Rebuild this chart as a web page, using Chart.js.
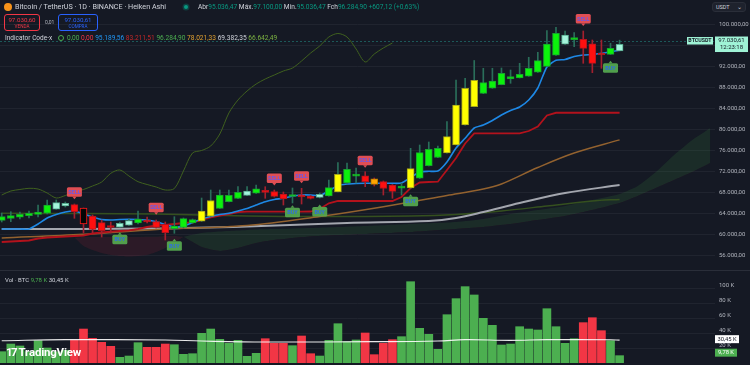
<!DOCTYPE html>
<html>
<head>
<meta charset="utf-8">
<script src="https://cdn.jsdelivr.net/npm/chart.js@4.4.1/dist/chart.umd.min.js"></script>
<style>
  html, body { margin: 0; padding: 0; background: #151924; }
  #wrap { position: relative; width: 750px; height: 365px; overflow: hidden; font-family: Roboto, 'Noto Sans', sans-serif; color: #d1d4dc; }
  canvas { position: absolute; left: 0; }
  #price { top: 0; }
  #vol { top: 270px; }
  .t { position: absolute; white-space: nowrap; line-height: 1; }
  .g { color: #089981; }
  .sep { position: absolute; left: 0; top: 270px; width: 750px; height: 1px; background: #2a2e39; }
  .box { position: absolute; border-radius: 3px; text-align: center; line-height: 1; }
  .pick { position: absolute; left: 712px; top: 2px; width: 34px; height: 10px; border: 1px solid #2a2e39; background: #1e222d;
          border-radius: 3px; display: flex; justify-content: space-between; align-items: center; padding: 0 3px; box-sizing: border-box;
          font-size: 5.5px; color: #d1d4dc; }
</style>
</head>
<body>
<div id="wrap">
  <canvas id="price" width="750" height="270"></canvas>
  <canvas id="vol" width="750" height="95"></canvas>
  <div class="sep"></div>

  <div class="t" style="left:4px;top:3px;width:8px;height:8px;border-radius:50%;background:#f7931a"></div>
  <div class="t" style="left:15px;top:3px;font-size:7.2px">Bitcoin / TetherUS · 1D · BINANCE · Heiken Ashi</div>
  <div class="t" style="left:184px;top:5px;width:4px;height:4px;border-radius:50%;background:#089981;box-shadow:0 0 0 1.5px rgba(8,153,129,0.3)"></div>
  <div class="t" style="left:198px;top:4px;font-size:6.6px">Abr<span class="g">95.036,47</span> Máx.<span class="g">97.100,00</span> Mín.<span class="g">95.036,47</span> Fch<span class="g">96.284,90</span> <span class="g">+607,12 (+0,63%)</span></div>

  <div class="box" style="left:4px;top:14px;width:34px;height:15px;border:1px solid #f23645;color:#f23645">
    <div style="font-size:6.2px;margin-top:2px">97.030,60</div><div style="font-size:4.6px;margin-top:1.5px">VENDA</div>
  </div>
  <div class="t" style="left:45px;top:20px;font-size:5px;color:#b2b5be">0,01</div>
  <div class="box" style="left:58px;top:14px;width:38px;height:15px;border:1px solid #2962ff;color:#2962ff">
    <div style="font-size:6.2px;margin-top:2px">97.030,61</div><div style="font-size:4.6px;margin-top:1.5px">COMPRA</div>
  </div>

  <div class="t" style="left:5px;top:35px;font-size:6.5px">Indicator Code-x</div>
  <div class="t" style="left:58px;top:35px;width:4px;height:4px;border:1.2px solid #4caf50;border-radius:50%"></div>
  <div class="t" style="left:67px;top:35px;font-size:6.6px">
    <span style="color:#4caf50">0,00</span> <span style="color:#f23645">0,00</span> <span style="color:#2196f3">95.189,56</span> <span style="color:#c62828">83.211,51</span> <span style="color:#4caf50">96.284,90</span> <span style="color:#e0a030">78.021,33</span> <span style="color:#d1d4dc">69.382,35</span> <span style="color:#7cb342">66.642,49</span>
  </div>

  <div class="pick"><span>USDT</span><span>⌄</span></div>

  <div class="t" style="left:5px;top:277px;font-size:6px">Vol · BTC <span style="color:#4caf50">9,78 K</span> <span>30,45 K</span></div>
  <div class="t" style="left:6px;top:347px;font-size:11.5px;font-weight:bold;color:#fff;letter-spacing:-0.2px"><span style="letter-spacing:-1.5px">17</span> TradingView</div>
</div>
<script>
// Heiken Ashi candles, one per day
const open  = [62639, 62983, 63251, 63519, 63749, 63988, 64782, 65394, 65643, 64963,
               63443, 62180, 61415, 61338, 61702, 62132, 62505, 62409, 61855, 61061,
               61300, 62123, 62457, 63443, 64935, 66188, 66810, 67403, 67823, 68244,
               68120, 67670, 67192, 67288, 67211, 67011, 67307, 68091, 69775, 71085,
               71152, 70588, 70062, 69392, 68789, 68818, 70683, 73084, 74653, 75533,
               77082, 80889, 84390, 86906, 87929, 88608, 89689, 89899, 90234, 90970,
               92070, 94223, 96317, 97207, 97265, 96404, 94538, 94394, 95036];
const high  = [64036, 64284, 64227, 64418, 65566, 66523, 66523, 66140, 65757, 64990,
               63653, 62696, 62314, 62314, 62888, 64418, 63270, 62696, 62314, 63328,
               63079, 62888, 66905, 68436, 68436, 68436, 69067, 69067, 69392, 69067,
               68436, 68053, 68818, 68761, 67383, 67862, 70349, 73658, 73601, 72644,
               71936, 70731, 70157, 69488, 69717, 76413, 77044, 77618, 76853, 81501,
               89479, 89804, 93209, 91717, 91717, 91774, 91392, 92673, 93821, 94778,
               98910, 99560, 98852, 98527, 98852, 97131, 97131, 96500, 97100];
const low   = [62314, 62371, 62888, 63079, 63270, 63844, 64744, 65183, 63022, 60210,
               60267, 59444, 60210, 61262, 61644, 61931, 62123, 61166, 58870, 60152,
               61166, 62027, 62409, 63366, 64896, 66140, 66771, 67364, 67785, 66848,
               67096, 65566, 65949, 65757, 66714, 66905, 67249, 68053, 69717, 69775,
               69067, 69201, 67479, 66848, 67479, 68761, 70636, 73026, 74615, 75495,
               77044, 80851, 84352, 86858, 87891, 88560, 88847, 89861, 90186, 90932,
               92023, 94184, 96270, 95849, 92673, 90875, 91717, 94356, 95036];
const close = [63328, 63519, 63787, 63978, 64227, 65566, 66006, 65891, 64284, 61931,
               60917, 60650, 61262, 62065, 62563, 62888, 62314, 61300, 60267, 61549,
               62945, 62792, 64418, 66427, 67441, 67422, 67995, 68244, 68665, 67995,
               67230, 66714, 67383, 67135, 66810, 67613, 68876, 71439, 72396, 71209,
               70023, 69526, 68722, 68187, 68837, 72548, 75571, 76221, 76413, 78632,
               84696, 87891, 89421, 88962, 89287, 90760, 90110, 90569, 91717, 93171,
               96365, 98412, 98087, 97322, 95542, 92673, 94261, 95542, 96285];
// candle colouring of the indicator: g lime, a mint, r red, y yellow, o orange, k hollow
const tones = ('ggggggaark' + 'rrraagrrrg' + 'ggyygggagr' + 'rrgrragygg' +
               'rorrgygggy' + 'yyyggggggg' + 'ggagrrrga').split('');
// volume, thousands of BTC
const volume = [15.1, 25.3, 22.7, 15.1, 29.8, 20, 15, 17, 30.7, 45.3,
                32.9, 27.6, 22.2, 7.6, 9.3, 27.1, 20.9, 20.9, 25.3, 24.4,
                11.6, 12.4, 39.6, 45.3, 31.6, 26.2, 30.2, 8.9, 12.9, 32.4,
                26.2, 26.2, 23.1, 36, 12.4, 9.3, 30.2, 52.4, 28.4, 30.7,
                40, 11.1, 26.2, 31.1, 35.1, 108.4, 46.2, 38.2, 18.2, 64.4,
                85.8, 101.8, 90.7, 59.6, 50.2, 24, 25.3, 48.4, 45.3, 44,
                72.4, 48.4, 26.2, 32.4, 53.8, 60.4, 43.1, 29.8, 9.78];
const volMaIdx = [0, 7, 18, 22, 29, 41, 48, 51, 56, 60, 67, 68];
const volMa    = [29.7, 31.1, 30.7, 29.3, 28, 28.4, 29.3, 31.1, 30.2, 31.1, 31.0, 30.45];

// indicator lines
const fastLine = [60975, 60975, 60975, 60975, 61931, 63079, 63749, 64227, 64418, 63844,
                  63270, 62792, 62697, 62792, 62830, 62792, 62697, 62371, 61836, 61357,
                  61549, 62218, 62888, 63366, 63749, 63978, 64418, 64896, 65566, 66197,
                  66618, 66848, 67288, 67479, 67479, 67383, 68244, 69296, 69583, 69679,
                  69717, 69717, 69717, 69717, 69775, 70827, 71879, 72013, 72070, 73792,
                  76470, 78326, 80296, 80870, 81731, 82783, 83644, 84313, 85653, 87948,
                  91965, 93247, 93400, 93974, 94261, 94357, 94586, 94892, 95190];
const trailLine = [58488, 58584, 58679, 58775, 59157, 59349, 59444, 59540, 59636, 59731,
                   60114, 60305, 60458, 60592, 60726, 60975, 61357, 61645, 61740, 61931,
                   62123, 62218, 62697, 63213, 63557, 63844, 64227, 64284, 64284, 64284,
                   64284, 64284, 64284, 64284, 64323, 64801, 65891, 66331, 66331, 66331,
                   66331, 66331, 66331, 66331, 67096, 68818, 69870, 69966, 70023, 72262,
                   74557, 77331, 79282, 79282, 79282, 79282, 79282, 79282, 79722, 80583,
                   82687, 83210, 83210, 83210, 83210, 83210, 83210, 83210, 83210];
const bandLine = [67479, 68244, 68532, 68761, 68627, 67862, 66905, 67383, 68053, 68532,
                  69201, 69966, 71630, 72262, 71114, 70023, 69488, 69009, 68436, 68723,
                  72070, 75514, 75992, 76853, 79148, 83166, 85653, 87374, 88713, 89670,
                  90435, 91200, 91774, 93113, 94644, 95983, 97704, 98374, 97704, 95409,
                  92922, 94452, 95600, 96557];
const midIdx  = [0, 9, 17, 27, 35, 42, 49, 53, 55, 59, 63, 68];
const midLine = [59253, 59961, 60879, 61645, 63366, 65241, 67383, 68627, 69583, 72740, 75514, 78021];
const slowIdx  = [0, 17, 27, 38, 47, 50, 53, 57, 62, 68];
const slowLine = [60975, 61070, 61453, 62123, 62505, 63079, 64227, 65949, 67862, 69382];
const baseIdx  = [0, 9, 17, 27, 35, 45, 50, 55, 60, 65, 68];
const baseLine = [63978, 63940, 63844, 63462, 63366, 63462, 63749, 64418, 65375, 66331, 66642];
const cloudIdx = [8, 9, 10, 11, 12, 13, 14, 15, 16, 17, 18, 19, 20,
                  22, 24, 26, 28, 30, 34, 40, 45, 50, 53, 56, 59, 62, 65, 68, 70, 72, 74, 76, 78];
const cloudA = [59349, 57723, 56958, 56384, 56001, 55810, 55714, 55810, 56001, 56575, 57340, 58297, 59444,
                60210, 60497, 60688, 60879, 60975, 61166, 61549, 61931, 62314, 62888, 63844, 64610,
                65375, 66523, 67670, 69201, 71879, 75131, 78001, 80296];
const cloudB = [59349, 59444, 59444, 59444, 59444, 59444, 59444, 59444, 59540, 59540, 59636, 59636, 59444,
                57531, 56766, 57340, 58297, 58871, 59540, 60018, 60401, 60975, 61357, 61931, 62697,
                63462, 64610, 65949, 67288, 68818, 70349, 71879, 73601];

const sellIdx = [8, 17, 30, 33, 40, 64];
const sellAt  = [68050, 65090, 70690, 71110, 74080, 101200];
const buyIdx  = [13, 19, 32, 35, 45, 67];
const buyAt   = [58970, 57720, 64110, 64280, 66240, 91770];

const priceTicks = [56000, 60000, 64000, 68000, 72000, 76000, 80000, 84000, 88000, 92000, 96000, 100000];
const volTicks = [20, 40, 60, 80, 100];
const lastPrice = 97030.61;

const toneFill = { g: '#0cf20c', a: '#a4f5dc', r: '#ff1010', y: '#ffff00', o: '#ffa500', k: '#050505' };
const toneEdge = { g: '#17a32e', a: '#57a98e', r: '#b3141e', y: '#a5a51c', o: '#b37400', k: '#ff1a1a' };
const bearish = t => t === 'r' || t === 'k' || t === 'o';

const days = open.map((_, i) => i);
const xScale = { type: 'linear', min: -0.19, max: 78.5, offset: false, display: false, grid: { offset: false } };
const font = { family: 'Roboto', size: 6 };

function dotted(v) {
  return String(v).replace(/\B(?=(\d{3})+(?!\d))/g, '.');
}

function line(idx, vals, color, width, order, tension) {
  return {
    type: 'line', data: idx.map((x, k) => ({ x, y: vals[k] })),
    borderColor: color, borderWidth: width, pointRadius: 0, tension, order, fill: false,
  };
}

function fixAxis(scale, ticks) {
  scale.ticks = ticks.map((value) => ({ value }));
}

function tag(ctx, px, py, text, fill, ink, down) {
  const w = 15, h = 9.5;
  ctx.fillStyle = fill;
  ctx.beginPath();
  ctx.roundRect(px - w / 2, py - h / 2, w, h, 1.5);
  ctx.fill();
  ctx.beginPath();
  if (down) {
    ctx.moveTo(px - 2, py + h / 2); ctx.lineTo(px + 2, py + h / 2); ctx.lineTo(px, py + h / 2 + 2.5);
  } else {
    ctx.moveTo(px - 2, py - h / 2); ctx.lineTo(px + 2, py - h / 2); ctx.lineTo(px, py - h / 2 - 2.5);
  }
  ctx.fill();
  ctx.fillStyle = ink;
  ctx.fillText(text, px, py + 0.5);
}

const signalTags = {
  id: 'signalTags',
  afterDatasetsDraw(chart) {
    const { ctx, scales: { x, y } } = chart;
    ctx.save();
    ctx.font = 'bold 5.5px Roboto';
    ctx.textAlign = 'center';
    ctx.textBaseline = 'middle';
    sellIdx.forEach((i, k) => tag(ctx, x.getPixelForValue(i), y.getPixelForValue(sellAt[k]), 'SELL', 'rgba(242,82,88,0.92)', '#6c58e6', true));
    buyIdx.forEach((i, k) => tag(ctx, x.getPixelForValue(i), y.getPixelForValue(buyAt[k]), 'BUY', 'rgba(86,170,80,0.92)', '#2f6fe0', false));
    ctx.restore();
  },
};

const priceLine = {
  id: 'priceLine',
  beforeDatasetsDraw(chart) {
    const { ctx, chartArea: a, scales: { y } } = chart;
    const py = Math.round(y.getPixelForValue(lastPrice)) + 0.5;
    ctx.save();
    ctx.strokeStyle = 'rgba(38,166,154,0.45)';
    ctx.setLineDash([2, 2]);
    ctx.beginPath();
    ctx.moveTo(a.left, py); ctx.lineTo(a.right, py);
    ctx.stroke();
    ctx.restore();
  },
  afterDraw(chart) {
    const { ctx, chartArea: a, scales: { y } } = chart;
    const py = y.getPixelForValue(lastPrice);
    ctx.save();
    ctx.fillStyle = '#9ff3d6';
    ctx.fillRect(a.right - 28, py - 3.5, 26, 7.5);
    ctx.fillRect(a.right, py - 4, 33, 15.5);
    ctx.fillStyle = '#131722';
    ctx.textBaseline = 'middle';
    ctx.textAlign = 'center';
    ctx.font = 'bold 5.3px Roboto';
    ctx.fillText('BTCUSDT', a.right - 15, py + 0.3);
    ctx.font = '6px Roboto';
    ctx.fillText(dotted(Math.floor(lastPrice)) + ',61', a.right + 16.5, py + 0.3);
    ctx.fillText('12:23:18', a.right + 16.5, py + 7.3);
    ctx.restore();
  },
};

const volTags = {
  id: 'volTags',
  afterDraw(chart) {
    const { ctx, chartArea: a, scales: { y } } = chart;
    const lastVol = volume[volume.length - 1];
    const lastMa = volMa[volMa.length - 1];
    ctx.save();
    ctx.font = '5.8px Roboto';
    ctx.textBaseline = 'middle';
    ctx.textAlign = 'center';
    let py = y.getPixelForValue(lastMa) - 1;
    ctx.fillStyle = '#ffffff';
    ctx.fillRect(a.right, py - 4, 24, 8);
    ctx.fillStyle = '#131722';
    ctx.fillText(String(lastMa).replace('.', ',') + ' K', a.right + 12, py + 0.3);
    py = y.getPixelForValue(lastVol) - 3;
    ctx.fillStyle = '#4caf50';
    ctx.fillRect(a.right, py - 4, 22, 8);
    ctx.fillStyle = '#ffffff';
    ctx.fillText(String(lastVol).replace('.', ',') + ' K', a.right + 11, py + 0.3);
    ctx.restore();
  },
};

new Chart(document.getElementById('price'), {
  data: {
    datasets: [
      { type: 'line', data: cloudIdx.map((x, k) => ({ x, y: cloudA[k] })), borderColor: 'transparent', borderWidth: 0, pointRadius: 0, tension: 0.2, order: 30,
        fill: { target: '+1', above: 'rgba(67,160,71,0.14)', below: 'rgba(200,40,60,0.13)' } },
      { type: 'line', data: cloudIdx.map((x, k) => ({ x, y: cloudB[k] })), borderColor: 'transparent', borderWidth: 0, pointRadius: 0, tension: 0.2, order: 31, fill: false },
      line(days.slice(0, bandLine.length), bandLine, '#40611f', 1, 20, 0.3),
      line(baseIdx, baseLine, '#35501f', 1.5, 19, 0.3),
      line(slowIdx, slowLine, '#a3a6ae', 2, 18, 0.35),
      line(midIdx, midLine, '#93622f', 1.5, 17, 0.35),
      line(days, trailLine, '#b3121c', 1.8, 16, 0),
      line(days, fastLine, '#1e88e5', 1.6, 15, 0.2),
      { type: 'bar', grouped: false, barThickness: 1, order: 2,
        data: days.map((i) => ({ x: i, y: [low[i], high[i]] })),
        backgroundColor: tones.map((t) => (bearish(t) ? '#a3202e' : '#2a6e5a')) },
      { type: 'bar', grouped: false, barThickness: 7, order: 1, minBarLength: 2, borderSkipped: false, borderWidth: 1,
        data: days.map((i) => ({ x: i, y: [open[i], close[i]] })),
        backgroundColor: tones.map((t) => toneFill[t]),
        borderColor: tones.map((t) => toneEdge[t]) },
    ],
  },
  options: {
    responsive: false, animation: false, events: [],
    layout: { padding: 0 },
    plugins: { legend: { display: false }, tooltip: { enabled: false } },
    scales: {
      x: xScale,
      y: {
        position: 'right', min: 53132, max: 104782,
        afterFit(s) { s.width = 35; s.paddingTop = 0; s.paddingBottom = 0; },
        afterBuildTicks(s) { fixAxis(s, priceTicks); },
        ticks: { color: '#b2b5be', font, padding: 4, callback: (v) => dotted(v) + ',00' },
        grid: { color: 'rgba(42,46,57,0.55)', drawTicks: false },
        border: { display: false },
      },
    },
  },
  plugins: [signalTags, priceLine],
});

new Chart(document.getElementById('vol'), {
  data: {
    datasets: [
      line(volMaIdx, volMa, 'rgba(255,255,255,0.9)', 1.2, 1, 0.4),
      { type: 'bar', grouped: false, barThickness: 8, order: 2,
        data: days.map((i) => ({ x: i, y: volume[i] })),
        backgroundColor: tones.map((t) => (bearish(t) ? '#f23645' : '#4caf50')) },
    ],
  },
  options: {
    responsive: false, animation: false, events: [],
    layout: { padding: { bottom: 2 } },
    plugins: { legend: { display: false }, tooltip: { enabled: false } },
    scales: {
      x: xScale,
      y: {
        position: 'right', min: 0, max: 124,
        afterFit(s) { s.width = 35; s.paddingTop = 0; s.paddingBottom = 0; },
        afterBuildTicks(s) { fixAxis(s, volTicks); },
        ticks: { color: '#b2b5be', font, padding: 4, labelOffset: -3, callback: (v) => v + ' K' },
        grid: { color: 'rgba(42,46,57,0.55)', drawTicks: false },
        border: { display: false },
      },
    },
  },
  plugins: [volTags],
});
</script>
</body>
</html>
